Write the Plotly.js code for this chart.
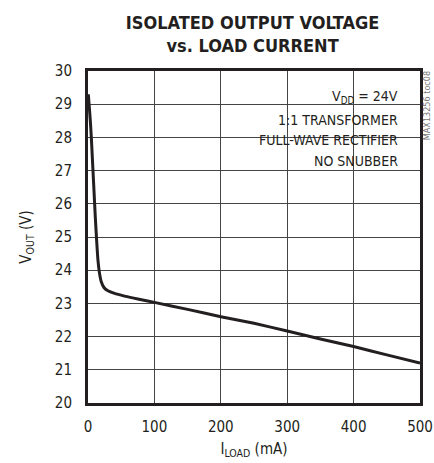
<!DOCTYPE html>
<html>
<head>
<meta charset="utf-8">
<script src="https://cdn.plot.ly/plotly-3.0.1.min.js"></script>
<style>html,body{margin:0;padding:0;background:#fff;}#chart{width:434px;height:463px;}</style>
</head>
<body>
<div id="chart"></div>
<script>
const loadCurrent = [0.5, 2, 3.5, 5, 6.5, 8, 9.5, 11, 13, 15, 17, 20, 24, 30, 40, 55, 75, 100, 150, 200, 250, 300, 350, 400, 450, 500];
const outputVoltage = [29.3, 28.9, 28.5, 28.0, 27.4, 26.8, 26.2, 25.6, 24.9, 24.3, 23.95, 23.65, 23.48, 23.38, 23.3, 23.22, 23.13, 23.03, 22.82, 22.6, 22.4, 22.17, 21.93, 21.7, 21.45, 21.2];
const xTicks = [0, 100, 200, 300, 400, 500];
const yTicks = [20, 21, 22, 23, 24, 25, 26, 27, 28, 29, 30];
const conditions = ["V<sub>DD</sub> = 24V", "1:1 TRANSFORMER", "FULL-WAVE RECTIFIER", "NO SNUBBER"];
const conditionRows = [0.922, 0.851, 0.791, 0.728];

const narrow = "DejaVu Sans Condensed, Liberation Sans Narrow, sans-serif";

const annotations = conditions.map((t, i) => ({
  xref: 'paper', yref: 'paper',
  x: 0.94, y: conditionRows[i],
  xanchor: 'right', yanchor: 'middle',
  text: t, showarrow: false,
  font: {family: narrow, size: 14, color: '#231f20'}
}));
annotations.push({
  xref: 'paper', yref: 'paper', x: 1.022, y: 0.895,
  xanchor: 'center', yanchor: 'middle', textangle: -90,
  text: 'MAX13256 toc08', showarrow: false,
  font: {family: narrow, size: 9, color: '#777'}
});

const data = [{
  x: loadCurrent, y: outputVoltage, type: 'scatter', mode: 'lines',
  line: {color: '#231f20', width: 3, shape: 'spline', smoothing: 0.6},
  hoverinfo: 'skip'
}];

const axisCommon = {
  showgrid: true, gridcolor: '#444', gridwidth: 1,
  showline: true, linecolor: '#231f20', linewidth: 3, mirror: true,
  zeroline: false, ticks: 'outside', tickcolor: 'rgba(0,0,0,0)',
  tickfont: {family: narrow, size: 15, color: '#231f20'}
};

const layout = {
  width: 434, height: 463,
  margin: {l: 88, r: 14, t: 71, b: 60},
  paper_bgcolor: '#fff', plot_bgcolor: '#fff',
  showlegend: false,
  title: {
    text: '<b>ISOLATED OUTPUT VOLTAGE<br>vs. LOAD CURRENT</b>',
    font: {family: narrow, size: 18, color: '#231f20'},
    x: 0.582, xanchor: 'center', yref: 'container', y: 0.938, yanchor: 'top'
  },
  xaxis: Object.assign({}, axisCommon, {
    range: [0, 500], tickvals: xTicks, ticklen: 8,
    title: {text: 'I<sub>LOAD</sub> (mA)', font: {family: narrow, size: 15, color: '#231f20'}, standoff: 9}
  }),
  yaxis: Object.assign({}, axisCommon, {
    range: [20, 30], tickvals: yTicks, ticklen: 10,
    title: {text: 'V<sub>OUT</sub> (V)', font: {family: narrow, size: 15, color: '#231f20'}, standoff: 20}
  }),
  shapes: [{
    type: 'rect', xref: 'paper', yref: 'paper',
    x0: 0.536, x1: 0.952, y0: 0.684, y1: 0.967,
    fillcolor: '#fff', line: {width: 0}, layer: 'between'
  }],
  annotations: annotations
};

Plotly.newPlot('chart', data, layout, {displayModeBar: false, staticPlot: true});
</script>
</body>
</html>
